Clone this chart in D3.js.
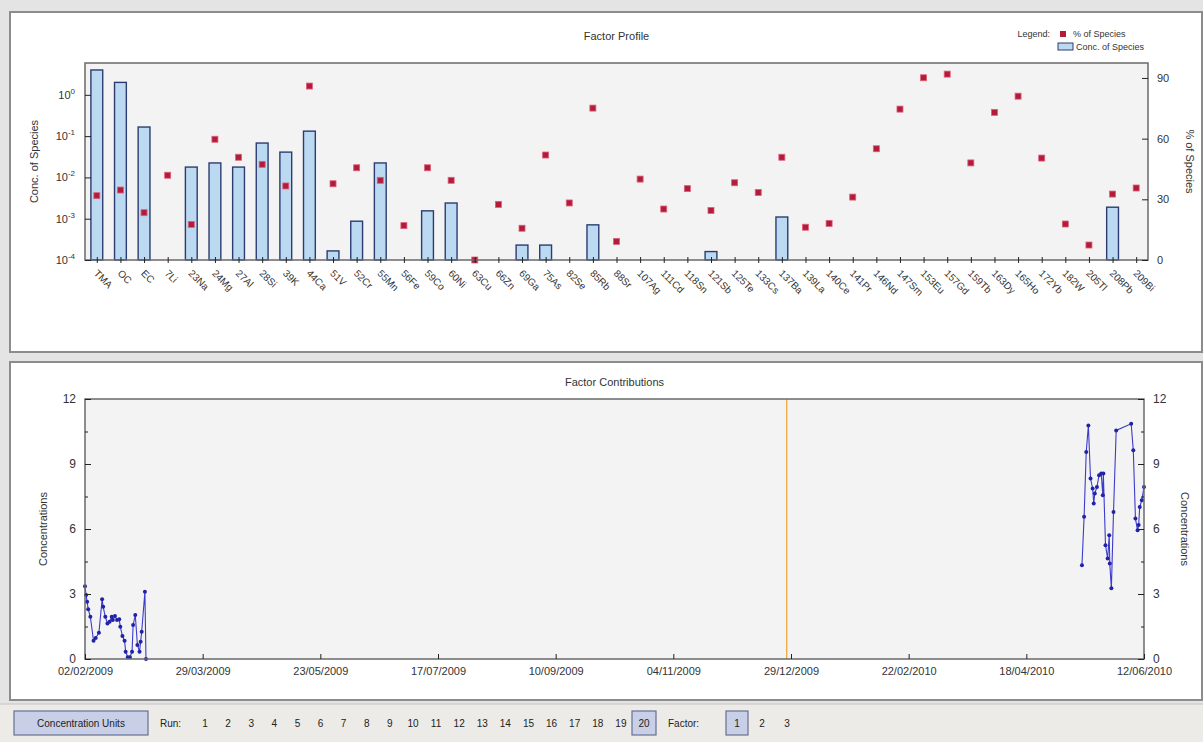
<!DOCTYPE html>
<html>
<head>
<meta charset="utf-8">
<script src="https://cdn.jsdelivr.net/npm/d3@7"></script>
<style>
  html, body { margin: 0; padding: 0; background: #e4e4e4; }
  svg { display: block; font-family: "Liberation Sans", Arial, sans-serif; }
</style>
</head>
<body>
<svg id="chart" width="1203" height="742"></svg>
<script>
// ---- Factor profile data (one entry per species) ----
const species = ["TMA","OC","EC","7Li","23Na","24Mg","27Al","28Si","39K","44Ca",
  "51V","52Cr","55Mn","56Fe","59Co","60Ni","63Cu","66Zn","69Ga","75As",
  "82Se","85Rb","88Sr","107Ag","111Cd","118Sn","121Sb","125Te","133Cs","137Ba",
  "139La","140Ce","141Pr","146Nd","147Sm","153Eu","157Gd","159Tb","163Dy","165Ho",
  "172Yb","182W","205Tl","208Pb","209Bi"];

// concentration of species in the factor (null = nothing drawn)
const concOfSpecies = [4.0, 2.0, 0.166, null, 0.0178, 0.0224, 0.0178, 0.068, 0.041, 0.132,
  0.000166, 0.00087, 0.0224, null, 0.00155, 0.0024, null, null, 0.00023, 0.00023,
  null, 0.00071, null, null, null, null, 0.00016, null, null, 0.0011,
  null, null, null, null, null, null, null, null, null, null,
  null, null, null, 0.0019, null];

// percentage of each species apportioned to the factor
const pctOfSpecies = [31.8, 34.6, 23.4, 41.9, 17.6, 59.7, 50.8, 47.3, 36.6, 86.0,
  37.7, 45.6, 39.4, 17.0, 45.6, 39.4, 0.0, 27.5, 15.7, 51.9,
  28.2, 75.1, 9.2, 40.0, 25.2, 35.3, 24.5, 38.2, 33.4, 50.8,
  16.2, 18.1, 31.1, 55.0, 74.6, 90.1, 91.9, 48.0, 73.0, 81.0,
  50.4, 17.8, 7.4, 32.6, 35.6];

const concTickValues = [1, 0.1, 0.01, 0.001, 0.0001];
const pctTickValues = [0, 30, 60, 90];

// ---- Factor contribution time series ----
const contribDates = [
  "2009-02-02T00:00","2009-02-02T12:00","2009-02-03T00:00","2009-02-03T12:00","2009-02-04T12:00",
  "2009-02-06T00:00","2009-02-07T00:00","2009-02-08T12:00","2009-02-10T00:00","2009-02-10T12:00",
  "2009-02-11T12:00","2009-02-12T12:00","2009-02-13T12:00","2009-02-14T12:00","2009-02-15T00:00",
  "2009-02-16T00:00","2009-02-17T00:00","2009-02-18T00:00","2009-02-18T12:00","2009-02-19T12:00",
  "2009-02-20T12:00","2009-02-21T00:00","2009-02-22T00:00","2009-02-23T00:00","2009-02-24T00:00",
  "2009-02-24T12:00","2009-02-25T12:00","2009-02-26T12:00","2009-02-27T12:00","2009-02-28T00:00",
  "2009-02-28T12:00","2009-03-02T00:00","2009-03-02T12:00",
  "2010-05-14T00:00","2010-05-15T00:00","2010-05-16T00:00","2010-05-17T00:00","2010-05-18T00:00",
  "2010-05-19T00:00","2010-05-19T12:00","2010-05-20T00:00","2010-05-21T00:00","2010-05-22T00:00",
  "2010-05-23T00:00","2010-05-23T18:00","2010-05-24T00:00","2010-05-25T00:00","2010-05-26T00:00",
  "2010-05-26T18:00","2010-05-27T00:00","2010-05-27T18:00","2010-05-28T18:00","2010-05-30T00:00",
  "2010-06-06T00:00","2010-06-07T00:00","2010-06-08T00:00","2010-06-09T00:00","2010-06-09T12:00",
  "2010-06-10T00:00","2010-06-11T00:00","2010-06-12T00:00"];
const contribValues = [
  3.36, 2.95, 2.64, 2.30, 1.95,
  0.84, 0.97, 1.21, 2.76, 2.41,
  1.95, 1.64, 1.72, 1.95, 1.80,
  1.98, 1.80, 1.83, 1.49, 1.06,
  0.84, 0.34, 0.08, 0.08, 0.34,
  1.57, 2.03, 0.65, 0.34, 0.80,
  1.26, 3.10, 0.00,
  4.33, 6.56, 9.55, 10.78, 8.33,
  7.87, 7.18, 7.64, 7.94, 8.48,
  8.56, 7.56, 8.56, 5.25, 4.64,
  5.71, 4.41, 3.26, 6.79, 10.55,
  10.86, 9.63, 6.48, 5.94, 6.18,
  7.02, 7.33, 7.94];

const contribTickValues = [0, 3, 6, 9, 12];
const contribMinorStep = 1.5;
const dateTickLabels = ["02/02/2009","29/03/2009","23/05/2009","17/07/2009","10/09/2009",
  "04/11/2009","29/12/2009","22/02/2010","18/04/2010","12/06/2010"];
const markerDate = "2009-12-27";

// ---- Toolbar ----
const runs = d3.range(1, 21);
const selectedRun = 20;
const factors = [1, 2, 3];
const selectedFactor = 1;

// ==========================================================
const svg = d3.select("#chart");
const textColor = "#333";
const frameColor = "#6a6a6a";
const plotFill = "#f3f3f3";
const fontFamily = "Liberation Sans, Arial, sans-serif";

// panels
svg.append("rect").attr("x", 10).attr("y", 12).attr("width", 1192).attr("height", 340)
  .attr("fill", "#fff").attr("stroke", "#8c8c8c").attr("stroke-width", 2);
svg.append("rect").attr("x", 10).attr("y", 362).attr("width", 1192).attr("height", 338)
  .attr("fill", "#fff").attr("stroke", "#8c8c8c").attr("stroke-width", 2);

// ---------------- Factor Profile ----------------
const P = { left: 85, right: 1148, top: 63, bottom: 260 };
const gProfile = svg.append("g");

const x = d3.scalePoint().domain(species).range([P.left, P.right]).padding(0.5);
const yConc = d3.scaleLog().domain([1e-4, 5.9]).range([P.bottom, P.top]);
const yPct = d3.scaleLinear().domain([0, 97.4]).range([P.bottom, P.top]);
const barW = x.step() * 0.5;

gProfile.append("rect").attr("x", P.left).attr("y", P.top)
  .attr("width", P.right - P.left).attr("height", P.bottom - P.top)
  .attr("fill", plotFill);

gProfile.append("text").attr("x", (P.left + P.right) / 2).attr("y", 40)
  .attr("text-anchor", "middle").attr("font-size", 11).attr("fill", textColor)
  .text("Factor Profile");

// bars
const barData = species.map((s, i) => ({ s, v: concOfSpecies[i] })).filter(d => d.v != null);
gProfile.append("g").selectAll("rect").data(barData).join("rect")
  .attr("x", d => x(d.s) - barW / 2)
  .attr("y", d => yConc(d.v))
  .attr("width", barW)
  .attr("height", d => P.bottom - yConc(d.v))
  .attr("fill", "#bcd9f2").attr("stroke", "#2c3c70").attr("stroke-width", 1.4);

// percentage markers
gProfile.append("g").selectAll("rect").data(species.map((s, i) => ({ s, v: pctOfSpecies[i] }))).join("rect")
  .attr("x", d => x(d.s) - 3).attr("y", d => yPct(d.v) - 3)
  .attr("width", 6).attr("height", 6)
  .attr("fill", "#b01c3a").attr("stroke", "#e0607a").attr("stroke-width", 0.8);

// frame
gProfile.append("rect").attr("x", P.left).attr("y", P.top)
  .attr("width", P.right - P.left).attr("height", P.bottom - P.top)
  .attr("fill", "none").attr("stroke", frameColor).attr("stroke-width", 1.5);

// left log axis
const axL = gProfile.append("g").attr("transform", `translate(${P.left},0)`)
  .call(d3.axisLeft(yConc).tickValues(concTickValues).tickSize(-6).tickPadding(10));
axL.select(".domain").remove();
axL.selectAll("line").attr("stroke", "#222");
axL.selectAll("text").each(function (d) {
  const t = d3.select(this).text("").attr("font-size", 11).attr("fill", textColor)
    .attr("font-family", fontFamily);
  t.append("tspan").text("10");
  t.append("tspan").attr("dy", -5).attr("font-size", 8).text(Math.round(Math.log10(d)));
});

// right percentage axis
const axR = gProfile.append("g").attr("transform", `translate(${P.right},0)`)
  .call(d3.axisRight(yPct).tickValues(pctTickValues).tickSize(-6).tickPadding(9));
axR.select(".domain").remove();
axR.selectAll("line").attr("stroke", "#222");
axR.selectAll("text").attr("font-size", 11).attr("fill", textColor)
  .attr("font-family", fontFamily);

// category axis
const axB = gProfile.append("g").attr("transform", `translate(0,${P.bottom})`)
  .call(d3.axisBottom(x).tickSize(3));
axB.select(".domain").remove();
axB.selectAll("line").attr("y1", -3).attr("stroke", "#222");
axB.selectAll("text")
  .attr("font-size", 10).attr("fill", textColor)
  .attr("font-family", fontFamily)
  .attr("text-anchor", "start")
  .attr("dy", null).attr("y", null)
  .attr("transform", "translate(-4,14) rotate(45)");

// axis titles
gProfile.append("text").attr("transform", `translate(38,${(P.top + P.bottom) / 2}) rotate(-90)`)
  .attr("text-anchor", "middle").attr("font-size", 11).attr("fill", textColor)
  .text("Conc. of Species");
gProfile.append("text").attr("transform", `translate(1186,${(P.top + P.bottom) / 2}) rotate(90)`)
  .attr("text-anchor", "middle").attr("font-size", 11).attr("fill", textColor)
  .text("% of Species");

// legend
const lg = gProfile.append("g").attr("font-size", 9).attr("fill", textColor);
lg.append("text").attr("x", 1050).attr("y", 37).attr("text-anchor", "end").text("Legend:");
lg.append("rect").attr("x", 1060).attr("y", 31).attr("width", 6).attr("height", 6)
  .attr("fill", "#b01c3a");
lg.append("text").attr("x", 1073).attr("y", 37).text("% of Species");
lg.append("rect").attr("x", 1058).attr("y", 43).attr("width", 15).attr("height", 7)
  .attr("fill", "#bcd9f2").attr("stroke", "#2c3c70").attr("stroke-width", 1);
lg.append("text").attr("x", 1076).attr("y", 50).text("Conc. of Species");

// ---------------- Factor Contributions ----------------
const C = { left: 85, right: 1144, top: 399, bottom: 659 };
const gContrib = svg.append("g");
const parseT = d3.timeParse("%Y-%m-%dT%H:%M");
const parseD = d3.timeParse("%d/%m/%Y");
const tickDates = dateTickLabels.map(parseD);

const xt = d3.scaleTime().domain([tickDates[0], tickDates[tickDates.length - 1]])
  .range([C.left, C.right]);
const yc = d3.scaleLinear().domain([0, 12]).range([C.bottom, C.top]);

gContrib.append("rect").attr("x", C.left).attr("y", C.top)
  .attr("width", C.right - C.left).attr("height", C.bottom - C.top).attr("fill", plotFill);

gContrib.append("text").attr("x", (C.left + C.right) / 2).attr("y", 386)
  .attr("text-anchor", "middle").attr("font-size", 11).attr("fill", textColor)
  .text("Factor Contributions");

// marker line
const markerX = xt(d3.timeParse("%Y-%m-%d")(markerDate));
gContrib.append("line")
  .attr("x1", markerX).attr("x2", markerX)
  .attr("y1", C.top).attr("y2", C.bottom)
  .attr("stroke", "#f0a22e").attr("stroke-width", 1.2);

// series, broken where sampling stops for a long time
const pts = contribDates.map((d, i) => ({ t: parseT(d), v: contribValues[i] }));
const segments = [];
pts.forEach((p, i) => {
  if (i === 0 || (p.t - pts[i - 1].t) > 30 * 864e5) segments.push([]);
  segments[segments.length - 1].push(p);
});
const line = d3.line().x(d => xt(d.t)).y(d => yc(d.v));
gContrib.append("g").selectAll("path").data(segments).join("path")
  .attr("d", line).attr("fill", "none").attr("stroke", "#3c3cc8").attr("stroke-width", 1.1);
gContrib.append("g").selectAll("circle").data(pts).join("circle")
  .attr("cx", d => xt(d.t)).attr("cy", d => yc(d.v)).attr("r", 2)
  .attr("fill", "#2222a8");

gContrib.append("rect").attr("x", C.left).attr("y", C.top)
  .attr("width", C.right - C.left).attr("height", C.bottom - C.top)
  .attr("fill", "none").attr("stroke", frameColor).attr("stroke-width", 1.5);

const minorVals = d3.range(0, 12.01, contribMinorStep).filter(v => !contribTickValues.includes(v));
function yAxisC(axisFn, xpos) {
  const g = gContrib.append("g").attr("transform", `translate(${xpos},0)`);
  g.call(axisFn(yc).tickValues(contribTickValues).tickSize(-6).tickPadding(9));
  g.select(".domain").remove();
  g.selectAll("line").attr("stroke", "#222");
  g.selectAll("text").attr("font-size", 12).attr("fill", textColor)
    .attr("font-family", fontFamily);
  const m = gContrib.append("g").attr("transform", `translate(${xpos},0)`);
  m.call(axisFn(yc).tickValues(minorVals).tickSize(-3).tickFormat(""));
  m.select(".domain").remove();
  m.selectAll("line").attr("stroke", "#222");
}
yAxisC(d3.axisLeft, C.left);
yAxisC(d3.axisRight, C.right);

const axT = gContrib.append("g").attr("transform", `translate(0,${C.bottom})`)
  .call(d3.axisBottom(xt).tickValues(tickDates).tickFormat(d3.timeFormat("%d/%m/%Y"))
    .tickSize(-5).tickPadding(8));
axT.select(".domain").remove();
axT.selectAll("line").attr("stroke", "#222");
axT.selectAll("text").attr("font-size", 11).attr("fill", textColor)
  .attr("font-family", fontFamily);

gContrib.append("text").attr("transform", `translate(47,${(C.top + C.bottom) / 2}) rotate(-90)`)
  .attr("text-anchor", "middle").attr("font-size", 11).attr("fill", textColor)
  .text("Concentrations");
gContrib.append("text").attr("transform", `translate(1181,${(C.top + C.bottom) / 2}) rotate(90)`)
  .attr("text-anchor", "middle").attr("font-size", 11).attr("fill", textColor)
  .text("Concentrations");

// ---------------- Toolbar ----------------
const tb = svg.append("g").attr("font-size", 10).attr("fill", "#222");
tb.append("rect").attr("x", 0).attr("y", 704).attr("width", 1203).attr("height", 38).attr("fill", "#ecebe7");
tb.append("line").attr("x1", 0).attr("x2", 1203).attr("y1", 704).attr("y2", 704).attr("stroke", "#c4c4c4");

function box(cx, w) {
  tb.append("rect").attr("x", cx - w / 2).attr("y", 711).attr("width", w).attr("height", 24)
    .attr("fill", "#c8cfe6").attr("stroke", "#667092").attr("stroke-width", 1.2);
}
box(81, 134);
tb.append("text").attr("x", 81).attr("y", 727).attr("text-anchor", "middle").text("Concentration Units");
tb.append("text").attr("x", 160).attr("y", 727).text("Run:");

const xr = d3.scalePoint().domain(runs).range([205, 644]);
box(xr(selectedRun), 24);
tb.append("g").selectAll("text").data(runs).join("text")
  .attr("x", d => xr(d)).attr("y", 727).attr("text-anchor", "middle").text(d => d);

tb.append("text").attr("x", 668).attr("y", 727).text("Factor:");
const xf = d3.scalePoint().domain(factors).range([737, 787]);
box(xf(selectedFactor), 22);
tb.append("g").selectAll("text").data(factors).join("text")
  .attr("x", d => xf(d)).attr("y", 727).attr("text-anchor", "middle").text(d => d);
</script>
</body>
</html>
